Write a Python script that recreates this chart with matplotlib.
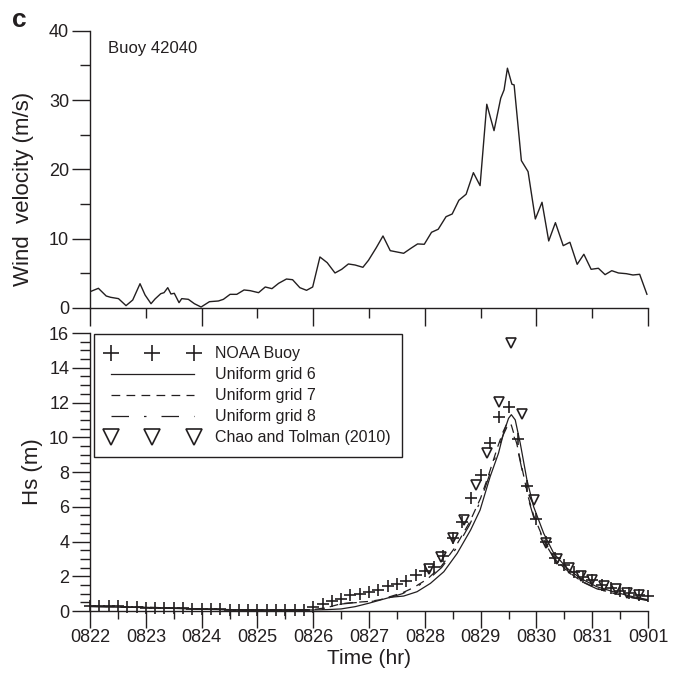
import numpy as np
import matplotlib
matplotlib.use('Agg')
import matplotlib.pyplot as plt
from matplotlib.ticker import MultipleLocator

plt.rcParams['font.family'] = ['Liberation Sans', 'DejaVu Sans']
plt.rcParams['text.color'] = '#231f20'
plt.rcParams['axes.labelcolor'] = '#231f20'
plt.rcParams['xtick.color'] = '#231f20'
plt.rcParams['ytick.color'] = '#231f20'

# time axis: days since 0822 00:00
day_labels = ['0822', '0823', '0824', '0825', '0826', '0827',
              '0828', '0829', '0830', '0831', '0901']

# wind velocity at buoy 42040 (m/s)
wind_t = [0, 0.15, 0.29, 0.37, 0.51, 0.645, 0.765, 0.896, 0.986, 1.093,
          1.165, 1.267, 1.326, 1.393, 1.45, 1.51, 1.595, 1.643, 1.762, 1.87,
          1.99, 2.14, 2.30, 2.39, 2.51, 2.63, 2.76, 2.87, 3.02, 3.14,
          3.26, 3.38, 3.52, 3.63, 3.76, 3.88, 3.99, 4.12, 4.25, 4.39,
          4.51, 4.63, 4.75, 4.89, 4.99, 5.13, 5.25, 5.38, 5.50, 5.62,
          5.75, 5.87, 5.99, 6.12, 6.24, 6.38, 6.49, 6.61, 6.74, 6.87,
          6.99, 7.11, 7.24, 7.36, 7.42, 7.48, 7.56, 7.60, 7.73, 7.85,
          7.98, 8.10, 8.22, 8.34, 8.48, 8.60, 8.73, 8.85, 8.98, 9.11,
          9.23, 9.35, 9.47, 9.61, 9.73, 9.85, 9.98]
wind = [2.35, 2.84, 1.73, 1.54, 1.35, 0.34, 1.15, 3.5, 1.88, 0.62,
        1.3, 2.06, 2.21, 2.93, 2.02, 2.12, 0.77, 1.35, 1.25, 0.62,
        0.14, 0.91, 1.01, 1.25, 1.97, 1.97, 2.6, 2.5, 2.21, 3.03,
        2.79, 3.56, 4.18, 4.08, 2.93, 2.55, 3.03, 7.36, 6.54, 5.05,
        5.58, 6.35, 6.2, 5.87, 6.88, 8.7, 10.39, 8.27, 8.08, 7.89,
        8.61, 9.24, 9.19, 10.92, 11.36, 13.17, 13.56, 15.54, 16.41, 19.52,
        17.65, 29.39, 25.58, 30.26, 31.46, 34.59, 32.28, 32.18, 21.26, 19.67,
        12.84, 15.25, 9.67, 12.31, 8.99, 9.48, 6.3, 7.75, 5.58, 5.73,
        4.81, 5.38, 5.05, 4.95, 4.76, 4.86, 1.98]

# NOAA buoy significant wave height, 4-hourly (m)
buoy_t = np.arange(0, 241, 4) / 24.0
buoy_hs = [0.30, 0.30, 0.28, 0.27, 0.25, 0.22, 0.20, 0.18, 0.18, 0.16,
           0.15, 0.14, 0.12, 0.10, 0.10, 0.08, 0.08, 0.08, 0.07, 0.07,
           0.07, 0.07, 0.08, 0.08, 0.25, 0.40, 0.60, 0.68, 0.90, 1.00,
           1.10, 1.20, 1.45, 1.55, 1.75, 2.05, 2.30, 2.55, 3.15, 4.20,
           5.15, 6.50, 7.80, 9.65, 11.15, 11.75, 9.90, 7.20, 5.30, 4.00,
           3.07, 2.65, 2.26, 1.98, 1.78, 1.50, 1.30, 1.17, 1.05, 0.92, 0.86]

# Chao and Tolman (2010), 5-hourly (m)
chao_t = [6.08, 6.29, 6.50, 6.71, 6.92, 7.12, 7.33, 7.54, 7.75, 7.96,
          8.17, 8.37, 8.58, 8.79, 9.00, 9.21, 9.42, 9.62, 9.83]
chao_hs = [2.40, 3.13, 4.18, 5.24, 7.25, 9.11, 12.05, 15.4, 11.34, 6.39,
           3.93, 2.97, 2.46, 2.01, 1.78, 1.46, 1.25, 1.05, 0.92]

# model runs
g6_t = [0, 0.5, 1, 1.5, 2, 2.5, 3, 3.5, 4, 4.25, 4.5, 4.75, 5.0, 5.2,
        5.38, 5.62, 5.86, 6.1, 6.34, 6.58, 6.82, 6.99, 7.17, 7.32, 7.41,
        7.5, 7.55, 7.62, 7.71, 7.83, 7.95, 8.13, 8.31, 8.55, 8.79, 9.08,
        9.38, 9.68, 10.0]
g6_hs = [0.25, 0.22, 0.20, 0.15, 0.10, 0.07, 0.05, 0.05, 0.06, 0.08, 0.12,
         0.25, 0.45, 0.63, 0.79, 0.86, 1.11, 1.59, 2.26, 3.32, 4.66, 5.81,
         7.73, 9.08, 10.23, 11.09, 11.30, 11.0, 9.65, 7.54, 6.0, 4.47, 3.32,
         2.46, 1.88, 1.40, 1.11, 0.86, 0.65]

g7_t = [0, 0.5, 1, 1.5, 2, 2.5, 3, 3.5, 4, 4.25, 4.5, 4.75, 5.0, 5.2,
        5.4, 5.6, 5.8, 6.05, 6.3, 6.55, 6.8, 7.0, 7.15, 7.3, 7.4, 7.48,
        7.55, 7.65, 7.75, 7.85, 7.95, 8.13, 8.31, 8.55, 8.79, 9.08, 9.38,
        9.68, 10.0]
g7_hs = [0.28, 0.25, 0.22, 0.17, 0.12, 0.08, 0.06, 0.06, 0.08, 0.20, 0.42,
         0.50, 0.55, 0.65, 0.85, 1.05, 1.35, 1.85, 2.60, 3.70, 5.10, 6.50,
         7.90, 9.40, 10.30, 10.85, 10.70, 9.60, 8.10, 6.60, 5.50, 4.10, 3.10,
         2.30, 1.75, 1.30, 1.02, 0.80, 0.62]

g8_t = [0, 0.5, 1, 1.5, 2, 2.5, 3, 3.5, 4, 4.25, 4.5, 4.75, 5.0, 5.2,
        5.4, 5.6, 5.8, 6.05, 6.3, 6.55, 6.8, 7.0, 7.15, 7.3, 7.4, 7.48,
        7.55, 7.65, 7.75, 7.85, 7.95, 8.13, 8.31, 8.55, 8.79, 9.08, 9.38,
        9.68, 10.0]
g8_hs = [0.27, 0.24, 0.21, 0.16, 0.11, 0.08, 0.06, 0.06, 0.08, 0.18, 0.40,
         0.48, 0.53, 0.62, 0.80, 1.00, 1.30, 1.78, 2.50, 3.55, 4.95, 6.35,
         7.75, 9.20, 10.10, 10.65, 10.55, 9.50, 8.00, 6.50, 5.40, 4.05, 3.05,
         2.28, 1.72, 1.28, 1.00, 0.78, 0.60]

ink = '#231f20'

fig = plt.figure(figsize=(6.8, 6.82), dpi=100)
ax1 = fig.add_axes([0.1324, 0.5484, 0.8206, 0.4066])
ax2 = fig.add_axes([0.1324, 0.1041, 0.8206, 0.4076])

for ax in (ax1, ax2):
    for side in ('top', 'right'):
        ax.spines[side].set_visible(False)
    for side in ('left', 'bottom'):
        ax.spines[side].set_linewidth(1.0)
        ax.spines[side].set_color(ink)
    ax.set_xlim(0, 10)

# --- wind speed ---
ax1.plot(wind_t, wind, color=ink, lw=1.0)
ax1.set_ylim(0, 40)
ax1.xaxis.set_major_locator(MultipleLocator(2))
ax1.xaxis.set_minor_locator(MultipleLocator(1))
ax1.yaxis.set_major_locator(MultipleLocator(10))
ax1.yaxis.set_minor_locator(MultipleLocator(5))
ax1.tick_params(axis='x', which='major', length=13, width=1.0, labelbottom=False)
ax1.tick_params(axis='x', which='minor', length=7, width=1.0)
ax1.tick_params(axis='y', which='major', length=13, width=1.0, labelsize=13, pad=2)
ax1.tick_params(axis='y', which='minor', length=7, width=1.0)
ax1.set_ylabel('Wind  velocity (m/s)', fontsize=16)
ax1.yaxis.set_label_coords(-0.1, 0.43)
ax1.text(0.032, 0.937, 'Buoy 42040', transform=ax1.transAxes,
         fontsize=12, va='center', ha='left')

# --- significant wave height ---
ax2.plot(buoy_t, buoy_hs, ls='none', marker='+', ms=8, mew=1.2,
         color=ink, clip_on=False, label='NOAA Buoy')
ax2.plot(g6_t, g6_hs, color=ink, lw=0.9, ls='-', label='Uniform grid 6')
ax2.plot(g7_t, g7_hs, color=ink, lw=0.9, ls=(0, (7, 5)), label='Uniform grid 7')
ax2.plot(g8_t, g8_hs, color=ink, lw=0.9, ls=(0, (14, 12, 2, 12)),
         label='Uniform grid 8')
ax2.plot(chao_t, chao_hs, ls='none', marker='v', ms=7, mew=1.2,
         mfc='none', mec=ink, clip_on=False, label='Chao and Tolman (2010)')

ax2.set_ylim(0, 16)
ax2.set_xticks(range(11))
ax2.set_xticklabels(day_labels)
ax2.xaxis.set_minor_locator(MultipleLocator(0.5))
ax2.yaxis.set_major_locator(MultipleLocator(2))
ax2.yaxis.set_minor_locator(MultipleLocator(0.5))
ax2.tick_params(axis='x', which='major', length=12, width=1.0, labelsize=13, pad=1)
ax2.tick_params(axis='x', which='minor', length=6, width=1.0)
ax2.tick_params(axis='y', which='major', length=13, width=1.0, labelsize=13, pad=2)
ax2.tick_params(axis='y', which='minor', length=7, width=1.0)
ax2.set_xlabel('Time (hr)', fontsize=15, labelpad=2)
ax2.set_ylabel('Hs (m)', fontsize=16)
ax2.yaxis.set_label_coords(-0.085, 0.5)

leg = ax2.legend(loc='upper left', bbox_to_anchor=(0.007, 0.996),
                 borderaxespad=0, numpoints=3,
                 handlelength=5.8, handletextpad=1.0, labelspacing=0.38,
                 borderpad=0.75, fontsize=11.5, fancybox=False, framealpha=1)
leg.get_frame().set_edgecolor(ink)
leg.get_frame().set_linewidth(1.0)
for h in leg.legend_handles:
    if h.get_marker() in ('+', 'v'):
        h.set_markersize(12)

fig.text(0.018, 0.988, 'c', fontsize=19, fontweight='bold', va='top', ha='left')

fig.savefig('out.png', dpi=100)
